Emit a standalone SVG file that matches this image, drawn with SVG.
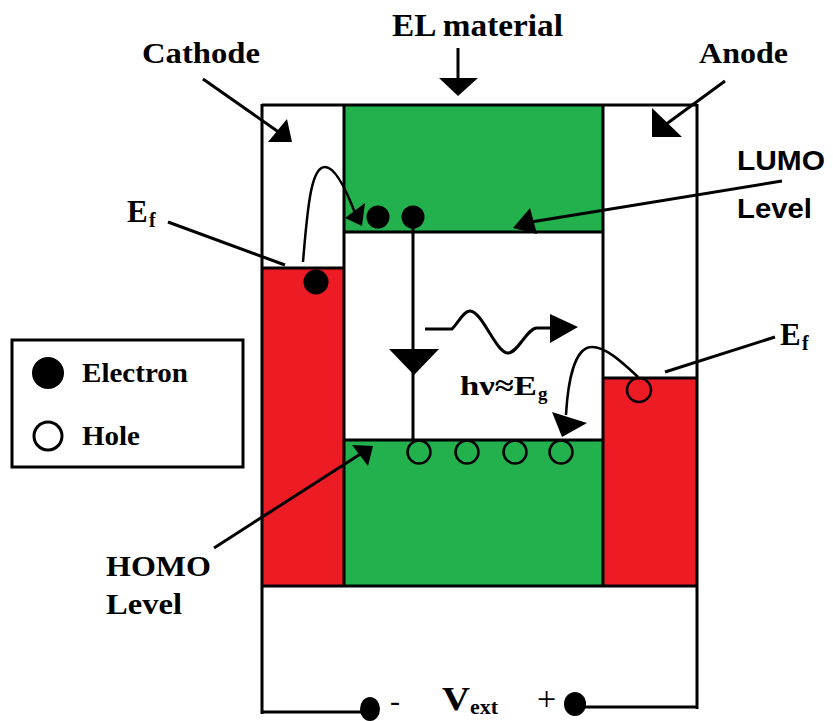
<svg xmlns="http://www.w3.org/2000/svg" width="833" height="721" viewBox="0 0 833 721">
<style>
.t{font-family:"Liberation Serif","Times New Roman",serif;font-weight:bold;fill:#000}
.s{font-family:"Liberation Sans",Arial,sans-serif;font-weight:bold;fill:#000}
.ln{stroke:#000;stroke-width:3;fill:none}
.th{stroke:#000;stroke-width:2.5;fill:none}
.red{fill:#ED1C24}
.green{fill:#22B14C}
.hole{fill:none;stroke:#000;stroke-width:2.5}
</style>
<rect width="833" height="721" fill="#fff"/>

<g id="layers">
  <rect class="green" x="344" y="105" width="259" height="127"/>
  <rect class="green" x="344" y="440" width="259" height="146"/>
  <rect class="red" x="262" y="268" width="82" height="318"/>
  <rect class="red" x="603" y="378" width="94" height="208"/>
  <path class="ln" d="M262,105 H697 M344,105 V586 M603,105 V586 M344,232 H603 M344,440 H603 M262,268 H344 M603,378 H697 M262,586 H697"/>
  <path class="ln" d="M262,104 V714 M697,104 V709"/>
</g>

<g id="circuit">
  <path class="ln" d="M262,712 H370 M575,707 H697"/>
  <ellipse cx="370" cy="709" rx="10" ry="12" fill="#000"/>
  <ellipse cx="575" cy="704" rx="11" ry="12" fill="#000"/>
  <text class="t" x="390" y="711" font-size="30" font-weight="normal" style="font-weight:normal">-</text>
  <text class="t" x="442" y="710" font-size="34" textLength="28" lengthAdjust="spacingAndGlyphs">V</text>
  <text class="t" x="470" y="714" font-size="22" textLength="28" lengthAdjust="spacingAndGlyphs">ext</text>
  <text class="t" x="537" y="710" font-size="34" style="font-weight:normal">+</text>
</g>

<g id="particles">
  <circle cx="378" cy="217" r="11.5" fill="#000"/>
  <circle cx="413" cy="217" r="11.5" fill="#000"/>
  <circle cx="316" cy="282" r="12.5" fill="#000"/>
  <circle class="hole" cx="419" cy="452" r="11.5"/>
  <circle class="hole" cx="467" cy="452" r="11.5"/>
  <circle class="hole" cx="515" cy="452" r="11.5"/>
  <circle class="hole" cx="561" cy="452" r="11.5"/>
  <circle class="hole" cx="639" cy="390" r="12"/>
</g>

<g id="connectors">
  <!-- EL material -->
  <line class="ln" x1="458" y1="48" x2="458" y2="80"/>
  <polygon points="439,78 478,78 458,96"/>
  <!-- Cathode -->
  <line class="ln" x1="203" y1="79" x2="280" y2="133"/>
  <polygon points="268,142 292,142 287,119"/>
  <!-- Anode -->
  <line class="ln" x1="725" y1="81" x2="665" y2="125"/>
  <polygon points="652,108 652,137 682,137"/>
  <!-- LUMO -->
  <line class="ln" x1="782" y1="181" x2="525" y2="223"/>
  <polygon points="513,228 530,208 537,234"/>
  <!-- HOMO -->
  <line class="ln" x1="214" y1="548" x2="362" y2="453"/>
  <polygon points="352,445 373,446 368,466"/>
  <!-- Ef lines -->
  <line class="ln" x1="168" y1="222" x2="285" y2="265"/>
  <line class="ln" x1="775" y1="337" x2="665" y2="372"/>
  <!-- electron hop -->
  <path class="th" d="M303,262 C308,200 312,167 325,167 C336,167 347,192 355,213"/>
  <polygon points="345,218 365,203 362,226"/>
  <!-- recombination -->
  <line class="ln" x1="413" y1="217" x2="413" y2="440"/>
  <polygon points="389,349 439,349 414,375"/>
  <!-- photon -->
  <path class="ln" d="M425,329 H452 C460,320 464,311 470,311 C482,311 496,353 508,353 C518,353 527,328 537,328 H552"/>
  <polygon points="550,314 578,327 550,343"/>
  <!-- hole hop -->
  <path class="th" d="M638,377 C620,360 605,347 592,347 C575,347 568,380 566,415"/>
  <polygon points="552,412 587,423 562,437"/>
</g>

<g id="labels">
  <text class="t" x="392" y="36" font-size="31" textLength="171" lengthAdjust="spacingAndGlyphs">EL material</text>
  <text class="t" x="142" y="63" font-size="30" textLength="118" lengthAdjust="spacingAndGlyphs">Cathode</text>
  <text class="t" x="699" y="63" font-size="30" textLength="89" lengthAdjust="spacingAndGlyphs">Anode</text>
  <text class="s" x="737" y="170" font-size="28" textLength="88" lengthAdjust="spacingAndGlyphs">LUMO</text>
  <text class="s" x="737" y="218" font-size="28" textLength="75" lengthAdjust="spacingAndGlyphs">Level</text>
  <text class="t" x="106" y="576" font-size="30" textLength="105" lengthAdjust="spacingAndGlyphs">HOMO</text>
  <text class="t" x="106" y="614" font-size="30" textLength="76" lengthAdjust="spacingAndGlyphs">Level</text>
  <text class="t" x="127" y="222" font-size="31">E</text>
  <text class="t" x="149" y="227" font-size="20">f</text>
  <text class="t" x="780" y="345" font-size="31">E</text>
  <text class="t" x="802" y="350" font-size="20">f</text>
  <text class="t" x="460" y="395" font-size="28" textLength="77" lengthAdjust="spacingAndGlyphs">hν≈E</text>
  <text class="t" x="538" y="400" font-size="19">g</text>
</g>

<g id="legend">
  <rect x="12" y="340" width="231" height="127" fill="#fff" stroke="#000" stroke-width="3"/>
  <circle cx="48" cy="373" r="16" fill="#000"/>
  <circle cx="48" cy="436" r="14" fill="#fff" stroke="#000" stroke-width="3"/>
  <text class="t" x="82" y="382" font-size="28" textLength="106" lengthAdjust="spacingAndGlyphs">Electron</text>
  <text class="t" x="82" y="445" font-size="28" textLength="58" lengthAdjust="spacingAndGlyphs">Hole</text>
</g>
</svg>
